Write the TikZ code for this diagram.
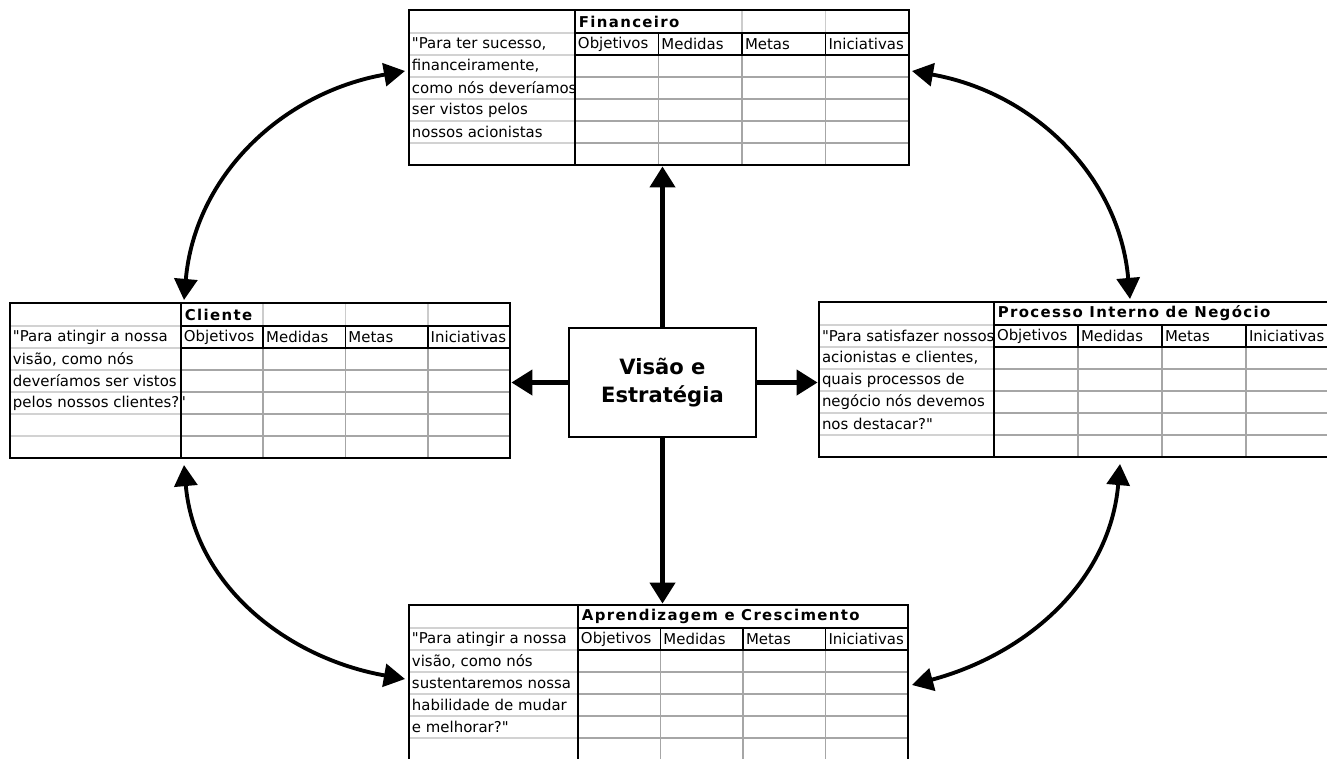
\documentclass[tikz,border=0pt]{standalone}
\usepackage{fontspec}
\setmainfont{DejaVu Sans}[Ligatures=TeXOff]
\usetikzlibrary{arrows.meta,fit}

\tikzset{
  tblframe/.style={draw, line width=1.5pt, inner sep=0pt},
  blackline/.style={line width=1.1pt},
  dataline/.style={gray!70, line width=1.1pt},
  leftline/.style={gray!35, line width=1.3pt},
  headline/.style={gray!40, line width=0.9pt},
  txt/.style={anchor=west, inner sep=1.5pt, font=\fontsize{8.5}{10}\selectfont},
  ttl/.style={anchor=west, inner sep=2pt, font=\bfseries\fontsize{8.5}{10}\selectfont\addfontfeatures{LetterSpace=9}},
  centerbox/.style={draw, line width=0.8pt, minimum width=3.74cm, minimum height=2.18cm, align=center, font=\bfseries\fontsize{12}{16}\selectfont},
  bold arrow/.style={line width=3.2pt, -{Triangle[length=12pt,width=14pt]}},
  round arrow/.style={line width=2.2pt, {Triangle[length=12pt,width=13pt]}-{Triangle[length=12pt,width=13pt]}},
}

% name, x left, x split, x right, y top, title, text lines, header rules
\newcommand{\bsctable}[8]{%
  \pgfmathsetmacro{\cw}{(#4-#3)/4}
  \foreach \c in {#8} \draw[headline] (#3+\c*\cw,#5) -- (#3+\c*\cw,#5+23);
  \foreach \r in {67,89,111,133} \draw[dataline] (#3,#5+\r) -- (#4,#5+\r);
  \foreach \c in {1,2,3} \draw[dataline] (#3+\c*\cw,#5+45) -- (#3+\c*\cw,#5+155);
  \foreach \r in {23,45,67,89,111,133} \draw[leftline] (#2,#5+\r) -- (#3,#5+\r);
  \foreach \c in {1,2,3} \draw[blackline] (#3+\c*\cw,#5+23) -- (#3+\c*\cw,#5+45);
  \draw[blackline] (#3,#5+23) -- (#4,#5+23) (#3,#5+45) -- (#4,#5+45) (#3,#5) -- (#3,#5+155);
  \foreach \h [count=\i from 0] in {Objetivos,Medidas,Metas,Iniciativas}
    \node[txt] at (#3+\i*\cw,#5+34) {\h};
  \node[ttl] at (#3,#5+11.5) {#6};
  \foreach \t [count=\i from 0] in {#7}
    \node[txt] at (#2,#5+34+22*\i) {\t};
  \node[tblframe, fit={(#2,#5) (#4,#5+155)}] (#1) {};
}

\begin{document}
\begin{tikzpicture}[x=0.02cm, y=-0.02cm]
  \useasboundingbox (0,0) rectangle (1327,758);

  \bsctable{fin}{409}{575}{909}{10}{Financeiro}{{"Para ter sucesso,},{financeiramente,},{como nós deveríamos},{ser vistos pelos},{nossos acionistas}}{2,3}
  \bsctable{cli}{10}{181}{510}{303}{Cliente}{{"Para atingir a nossa},{visão, como nós},{deveríamos ser vistos},{pelos nossos clientes?"}}{1,2,3}
  \bsctable{proc}{819}{994}{1330}{302}{Processo Interno de Negócio}{{"Para satisfazer nossos},{acionistas e clientes,},{quais processos de},{negócio nós devemos},{nos destacar?"}}{}
  \bsctable{apr}{409}{578}{908}{605}{Aprendizagem e Crescimento}{{"Para atingir a nossa},{visão, como nós},{sustentaremos nossa},{habilidade de mudar},{e melhorar?"}}{}

  \node[centerbox] (visao) at (662.5,382.5) {Visão e\\Estratégia};

  \draw[bold arrow] (visao.north) -- (visao |- fin.south);
  \draw[bold arrow] (visao.south) -- (visao |- apr.north);
  \draw[bold arrow] (visao.west) -- (visao -| cli.east);
  \draw[bold arrow] (visao.east) -- (visao -| proc.west);

  \coordinate (fin-l) at (405,71);
  \coordinate (fin-r) at (912,71);
  \coordinate (cli-t) at (184,300);
  \coordinate (cli-b) at (184,465);
  \coordinate (proc-t) at (1130,299);
  \coordinate (proc-b) at (1120,464);
  \coordinate (apr-l) at (405,679);
  \coordinate (apr-r) at (912,685);

  \draw[round arrow] (fin-l) to[out=190, in=85] (cli-t);
  \draw[round arrow] (fin-r) to[out=-10, in=95] (proc-t);
  \draw[round arrow] (cli-b) to[out=-85, in=170] (apr-l);
  \draw[round arrow] (proc-b) to[out=-95, in=15] (apr-r);
\end{tikzpicture}
\end{document}
